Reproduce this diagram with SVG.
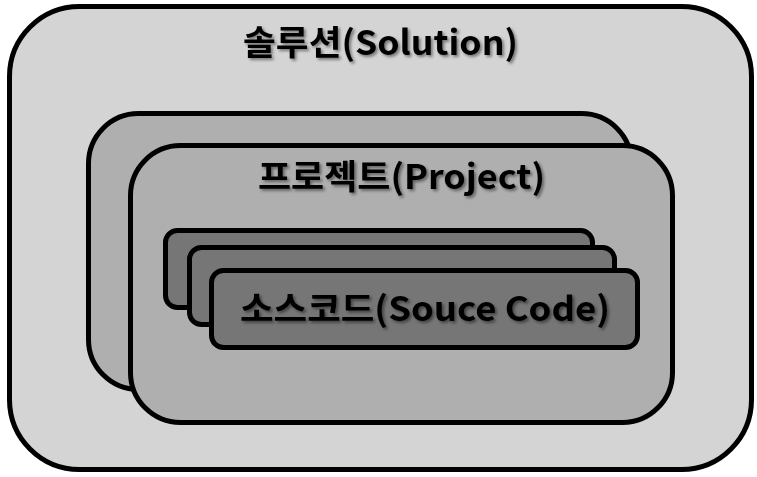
<svg xmlns="http://www.w3.org/2000/svg" width="757" height="477" viewBox="0 0 757 477">
<defs>
<filter id="sh" x="-10%" y="-30%" width="120%" height="160%">
<feDropShadow dx="2" dy="2" stdDeviation="1.5" flood-color="#000" flood-opacity="0.45"/>
</filter>
</defs>
<style>
.box{stroke:#000;stroke-width:5}
.sol{fill:#d4d4d4}
.prj{fill:#afafaf}
.src{fill:#767676}
.lbl{font-family:"Noto Sans CJK KR","Noto Sans",sans-serif;font-weight:bold;font-size:34px;fill:#000;text-anchor:middle;filter:url(#sh)}
</style>
<g id="solution">
<rect class="box sol" x="9.5" y="6.5" width="742" height="463" rx="70"/>
<text class="lbl" x="380.5" y="55" textLength="275" lengthAdjust="spacingAndGlyphs">솔루션(Solution)</text>
</g>
<g id="project-back">
<rect class="box prj" x="88.5" y="113.5" width="543" height="276" rx="50"/>
</g>
<g id="project">
<rect class="box prj" x="130.5" y="145.5" width="542" height="277" rx="50"/>
<text class="lbl" x="401.5" y="189" textLength="287" lengthAdjust="spacingAndGlyphs">프로젝트(Project)</text>
</g>
<g id="source-back2">
<rect class="box src" x="165.5" y="230.5" width="427" height="77" rx="12"/>
</g>
<g id="source-back1">
<rect class="box src" x="189.5" y="247.5" width="425" height="77" rx="12"/>
</g>
<g id="source">
<rect class="box src" x="211.5" y="270.5" width="426" height="77" rx="12"/>
<text class="lbl" x="425" y="321" textLength="370" lengthAdjust="spacingAndGlyphs">소스코드(Souce Code)</text>
</g>
<g id="connectors"/>
</svg>
